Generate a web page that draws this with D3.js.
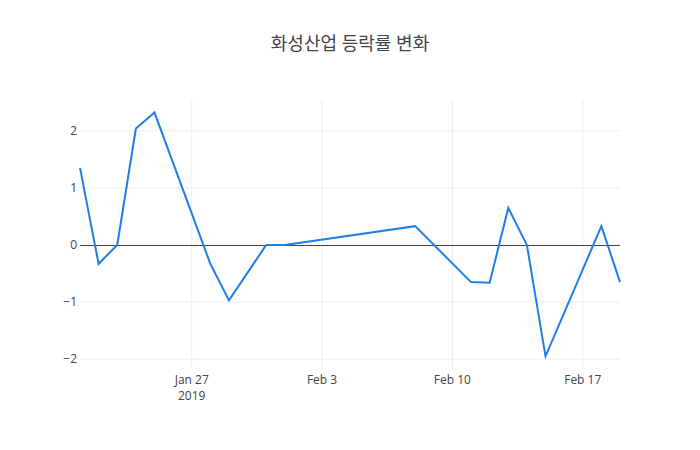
<!DOCTYPE html>
<html><head><meta charset="utf-8">
<script src="https://cdn.jsdelivr.net/npm/d3@7"></script>
<style>body{margin:0;background:#fff}text{font-family:"Open Sans","Noto Sans CJK KR",sans-serif}</style>
</head><body><svg id="c" width="700" height="450"></svg>
<script>
const dates = ["2019-01-21","2019-01-22","2019-01-23","2019-01-24","2019-01-25","2019-01-28","2019-01-29","2019-01-31","2019-02-01","2019-02-08","2019-02-11","2019-02-12","2019-02-13","2019-02-14","2019-02-15","2019-02-18","2019-02-19"];
const values = [1.35,-0.33,0,2.04,2.32,-0.33,-0.97,0,0,0.33,-0.65,-0.66,0.65,0,-1.95,0.33,-0.65];
const yTicks = [-2,-1,0,1,2];
const title = "화성산업 등락률 변화";

const svg = d3.select("#c");
const L=80,R=620,T=100,B=370;
const parse = d3.utcParse("%Y-%m-%d");
const data = dates.map((d,i)=>({d:parse(d),v:values[i]}));
const x = d3.scaleUtc().domain(d3.extent(data,d=>d.d)).range([L,R]);
const y = d3.scaleLinear().domain([-2.19,2.54]).range([B,T]);
const xt = [parse("2019-01-27"),parse("2019-02-03"),parse("2019-02-10"),parse("2019-02-17")];
const fmt = d3.utcFormat("%b %-d");

svg.append("g").selectAll("line").data(xt).join("line")
 .attr("x1",d=>x(d)).attr("x2",d=>x(d)).attr("y1",T).attr("y2",B).attr("stroke","#eee");
svg.append("g").selectAll("line").data(yTicks.filter(t=>t!==0)).join("line")
 .attr("x1",L).attr("x2",R).attr("y1",d=>y(d)).attr("y2",d=>y(d)).attr("stroke","#eee");
svg.append("line").attr("x1",L).attr("x2",R).attr("y1",Math.round(y(0))+0.5).attr("y2",Math.round(y(0))+0.5).attr("stroke","#444");

svg.append("g").selectAll("text").data(yTicks).join("text")
 .attr("x",L-3).attr("y",d=>y(d)+4).attr("text-anchor","end").attr("font-size",12).attr("fill","#444")
 .text(d=>d<0?"\u2212"+Math.abs(d):d);
svg.append("g").selectAll("text").data(xt).join("text")
 .attr("x",d=>x(d)).attr("y",B+14).attr("text-anchor","middle").attr("font-size",12).attr("fill","#444")
 .text(d=>fmt(d));
svg.append("text").attr("x",x(xt[0])).attr("y",B+30).attr("text-anchor","middle").attr("font-size",12).attr("fill","#444").text("2019");

svg.append("path").datum(data).attr("fill","none").attr("stroke","#1f7fe6").attr("stroke-width",2)
 .attr("d",d3.line().x(d=>x(d.d)).y(d=>y(d.v)));

svg.append("text").attr("x",350).attr("y",50).attr("text-anchor","middle").attr("font-size",18).attr("fill","#444").text(title);
</script></body></html>
